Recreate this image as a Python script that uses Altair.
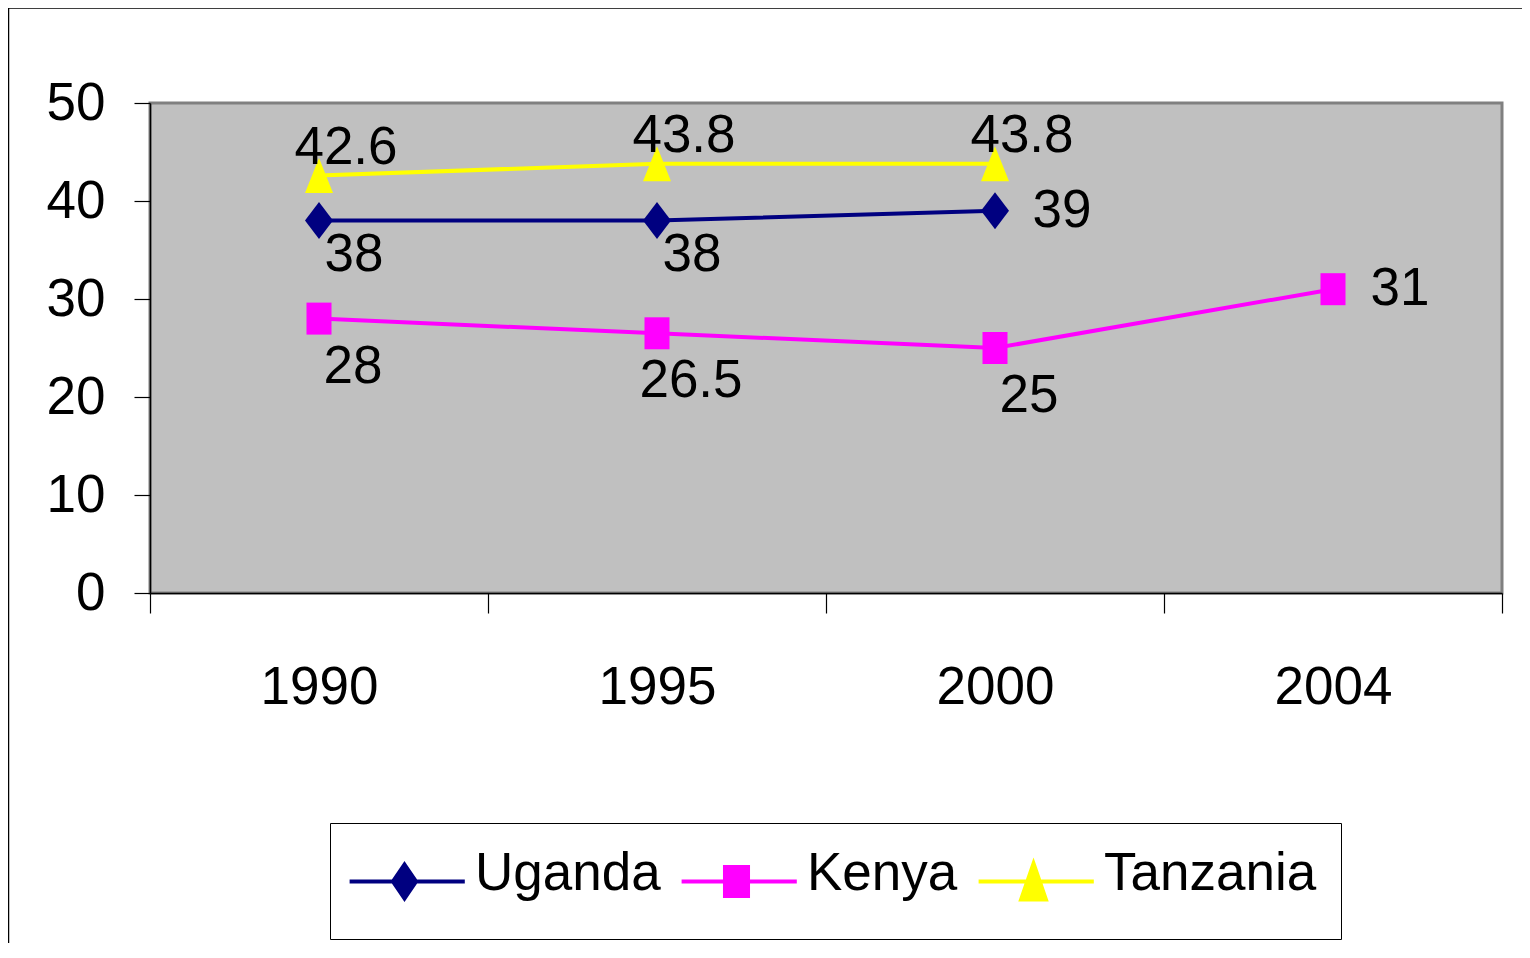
import altair as alt
import pandas as pd

# ---- data ----
years = ["1990", "1995", "2000", "2004"]
countries = ["Uganda", "Kenya", "Tanzania"]
uganda = [38, 38, 39, None]
kenya = [28, 26.5, 25, 31]
tanzania = [42.6, 43.8, 43.8, None]
y_ticks = [0, 10, 20, 30, 40, 50]

# ---- styles ----
colors = ["#000080", "#FF00FF", "#FFFF00"]
FONT = "Liberation Sans"
FS = 53

plot_shapes = [
    "M0,-1.85L1.4,0L0,1.85L-1.4,0Z",
    "M-1.25,-1.6H1.25V1.6H-1.25Z",
    "M0,-1.75L1.4,1.75H-1.4Z",
]
LINE = "M0,-1.85M0,1.85M-3.05,0.44H3.35"
legend_shapes = [
    LINE + "M0,-0.5L0.64,0.44L0,1.38L-0.64,0.44Z",
    LINE + "M-0.64,-0.36H0.64V1.24H-0.64Z",
    LINE + "M0,-0.56L0.69,1.44H-0.69Z",
]

rows = []
for name, vals in zip(countries, [uganda, kenya, tanzania]):
    for yr, v in zip(years, vals):
        if v is not None:
            rows.append({"Year": yr, "YearNum": int(yr), "Country": name,
                         "Value": v, "Label": f"{v:g}"})
df = pd.DataFrame(rows)

x_enc = alt.X(
    "Year:N", sort=years,
    scale=alt.Scale(type="band", domain=years, paddingInner=0, paddingOuter=0),
    axis=alt.Axis(title=None, labelAngle=0, tickBand="extent", tickSize=20,
                  labelPadding=48, labelFontSize=FS, labelFont=FONT,
                  labelColor="black", domainColor="black", tickColor="black",
                  domainWidth=1.5, tickWidth=1.2, grid=False),
)
y_enc = alt.Y(
    "Value:Q",
    scale=alt.Scale(domain=[0, 50], nice=False, zero=True),
    axis=alt.Axis(title=None, values=y_ticks, tickSize=16, labelPadding=29,
                  labelFontSize=FS, labelFont=FONT, labelColor="black",
                  domainColor="black", tickColor="black", domainWidth=1.5,
                  tickWidth=1.2, grid=False),
)
color_enc = alt.Color("Country:N", scale=alt.Scale(domain=countries, range=colors),
                      legend=None)

base = alt.Chart(df).transform_joinaggregate(
    last_year="max(YearNum)", groupby=["Country"]
).transform_calculate(is_last="datum.YearNum == datum.last_year")

frame = alt.Chart(pd.DataFrame({"f": [0]})).mark_rect(
    fillOpacity=0, stroke="black", strokeWidth=1.5
).encode(x=alt.value(-141.5), x2=alt.value(1600), y=alt.value(-95), y2=alt.value(1200))

lines = base.mark_line(strokeWidth=4).encode(x=x_enc, y=y_enc, color=color_enc)

points = base.mark_point(filled=True, size=400, opacity=1).encode(
    x=x_enc, y=y_enc, color=color_enc,
    shape=alt.Shape("Country:N", scale=alt.Scale(domain=countries, range=plot_shapes),
                    legend=None),
)

def text_layer(flt, dx, dy):
    return base.transform_filter(flt).mark_text(
        font=FONT, fontSize=FS, color="black", align="center", baseline="middle",
        dx=dx, dy=dy,
    ).encode(x=x_enc, y=y_enc, text="Label:N")

lab_tz = text_layer("datum.Country == 'Tanzania'", 27, -28)
lab_ug = text_layer("datum.Country == 'Uganda' && !datum.is_last", 35, 34)
lab_ke = text_layer("datum.Country == 'Kenya' && !datum.is_last", 34, 48)
lab_last = text_layer("datum.Country != 'Tanzania' && datum.is_last", 67, 0)

leg = alt.Legend(
    orient="none", legendX=180, legendY=720, direction="horizontal", title=None,
    symbolSize=1296, symbolStrokeWidth=4, symbolOffset=24, labelOffset=44,
    columnPadding=12, padding=24, strokeColor="black", fillColor="white",
    labelFont=FONT, labelFontSize=FS, labelColor="black", labelLimit=500,
)
legend_layer = base.transform_filter("false").mark_point(filled=True, opacity=1).encode(
    x=x_enc, y=y_enc,
    fill=alt.Fill("Country:N", scale=alt.Scale(domain=countries, range=colors), legend=leg),
    stroke=alt.Stroke("Country:N", scale=alt.Scale(domain=countries, range=colors), legend=leg),
    shape=alt.Shape("Country:N", scale=alt.Scale(domain=countries, range=legend_shapes), legend=leg),
)

chart = alt.layer(
    frame, lines, points, lab_tz, lab_ug, lab_ke, lab_last, legend_layer
).resolve_scale(
    shape="independent", fill="independent", stroke="independent"
).properties(
    width=1352, height=490, autosize="none",
    padding={"left": 142, "top": 95, "right": 20, "bottom": 350},
).configure_view(
    fill="#C0C0C0", stroke="#808080", strokeWidth=3
)

chart.save("out.html", embed_options={"renderer": "svg", "actions": False})
